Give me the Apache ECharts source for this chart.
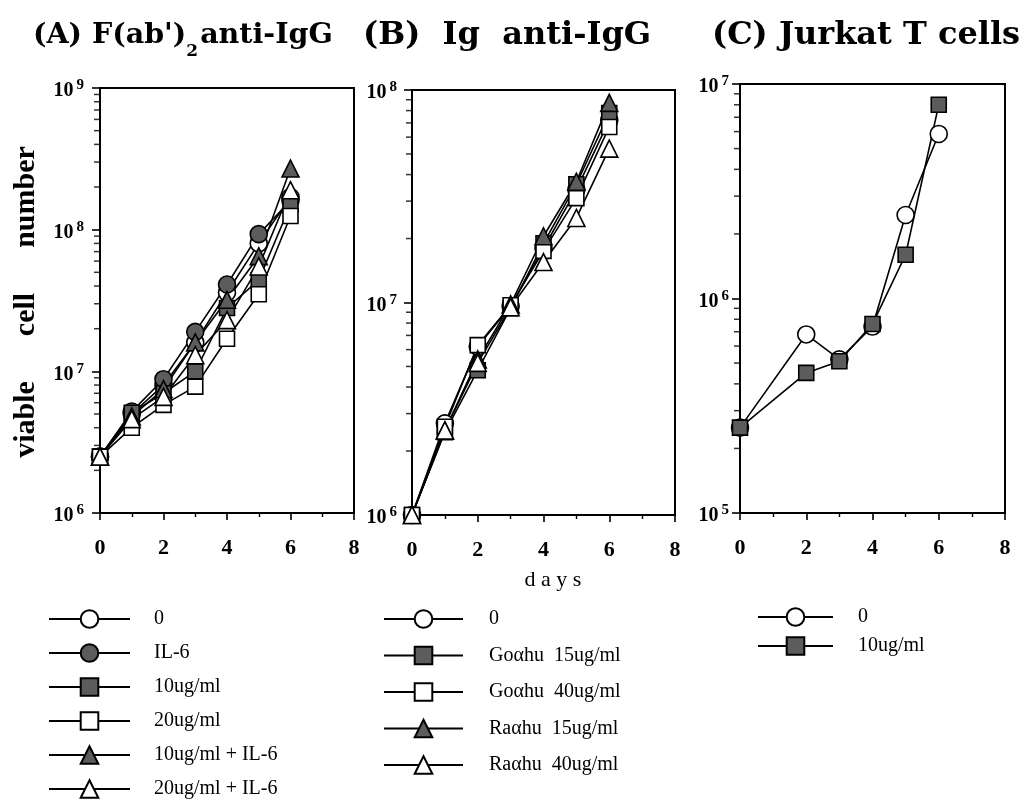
<!DOCTYPE html>
<html>
<head>
<meta charset="utf-8">
<script src="https://cdn.jsdelivr.net/npm/echarts@6/dist/echarts.min.js"></script>
<style>
  html, body { margin: 0; background: #fff; }
  #chart { width: 1031px; height: 804px; }
</style>
</head>
<body>
<div id="chart"></div>
<script>
// data
const daysAB = [0, 1, 2, 3, 4, 5, 6]
const daysC = [0, 2, 3, 4, 5, 6]

// (A) F(ab')2 anti-IgG
const a0 = [2.5e6, 5.0e6, 8.0e6, 1.6e7, 3.6e7, 8.0e7, 1.7e8]
const aIL6 = [2.5e6, 5.2e6, 8.8e6, 1.9e7, 4.1e7, 9.3e7, 1.6e8]
const a10 = [2.5e6, 5.1e6, 7.0e6, 1.0e7, 2.8e7, 4.4e7, 1.5e8]
const a20 = [2.5e6, 4.0e6, 5.8e6, 7.8e6, 1.7e7, 3.5e7, 1.25e8]
const a10IL6 = [2.5e6, 4.8e6, 7.5e6, 1.6e7, 3.2e7, 6.5e7, 2.7e8]
const a20IL6 = [2.5e6, 4.6e6, 6.6e6, 1.3e7, 2.3e7, 5.5e7, 1.9e8]

// (B) Ig anti-IgG
const b0 = [1e6, 2.7e6, 6.2e6, 9.6e6, 1.8e7, 3.4e7, 7.2e7]
const bGo15 = [1e6, 2.45e6, 4.8e6, 9.4e6, 1.9e7, 3.6e7, 7.8e7]
const bGo40 = [1e6, 2.6e6, 6.3e6, 9.7e6, 1.75e7, 3.1e7, 6.7e7]
const bRa15 = [1e6, 2.5e6, 5.4e6, 9.8e6, 2.05e7, 3.7e7, 8.7e7]
const bRa40 = [1e6, 2.5e6, 5.2e6, 9.5e6, 1.55e7, 2.5e7, 5.3e7]

// (C) Jurkat T cells
const c0 = [2.5e5, 6.8e5, 5.2e5, 7.4e5, 2.45e6, 5.85e6]
const c10 = [2.5e5, 4.5e5, 5.1e5, 7.6e5, 1.6e6, 8.0e6]

// axes
const xTicks = [0, 2, 4, 6, 8]
const yRangeA = [1e6, 1e9]
const yRangeB = [1e6, 1e8]
const yRangeC = [1e5, 1e7]
const minorSteps = [2, 3, 4, 5, 6, 7, 8, 9]
const decadesA = [1e6, 1e7, 1e8]
const decadesB = [1e6, 1e7]
const decadesC = [1e5, 1e6]

const legendA = ['0', 'IL-6', '10ug/ml', '20ug/ml', '10ug/ml + IL-6', '20ug/ml + IL-6']
const legendB = ['0', 'Goαhu  15ug/ml', 'Goαhu  40ug/ml', 'Raαhu  15ug/ml', 'Raαhu  40ug/ml']
const legendC = ['0', '10ug/ml']

const SERIF = 'Liberation Serif'
const FILL = '#5c5c5c'

const chart = echarts.init(document.getElementById('chart'))

const line = (name, idx, xs, ys, symbol, fill) => ({
  type: 'line',
  name,
  xAxisIndex: idx,
  yAxisIndex: idx,
  data: xs.map((x, i) => [x, ys[i]]),
  symbol,
  symbolSize: symbol === 'rect' ? 15 : 17,
  showAllSymbol: true,
  lineStyle: { color: '#000', width: 1.6 },
  itemStyle: { color: fill, borderColor: '#000', borderWidth: 1.6 },
  emphasis: { disabled: true },
  animation: false
})

// log minor ticks (2..9 x 10^n) sitting outside the y axis
const minorTicks = (idx, decades) => ({
  type: 'scatter',
  xAxisIndex: idx,
  yAxisIndex: idx,
  silent: true,
  clip: false,
  z: 5,
  animation: false,
  symbol: 'rect',
  symbolSize: [5, 1.5],
  symbolOffset: [-3.5, 0],
  itemStyle: { color: '#000' },
  data: decades.flatMap(d => minorSteps.map(s => [0, s * d]))
})

const xAxis = idx => ({
  type: 'value',
  gridIndex: idx,
  min: xTicks[0],
  max: xTicks[xTicks.length - 1],
  interval: 2,
  axisLine: { lineStyle: { color: '#000', width: 2 } },
  axisTick: { length: 7, lineStyle: { color: '#000', width: 1.6 } },
  minorTick: { show: true, splitNumber: 2, length: 4, lineStyle: { color: '#000', width: 1.4 } },
  splitLine: { show: false },
  axisLabel: { margin: 24, color: '#000', fontFamily: SERIF, fontWeight: 'bold', fontSize: 22 }
})

const yAxis = (idx, range, margin) => ({
  type: 'log',
  logBase: 10,
  gridIndex: idx,
  min: range[0],
  max: range[1],
  axisLine: { show: true, lineStyle: { color: '#000', width: 2 } },
  axisTick: { show: true, length: 8, lineStyle: { color: '#000', width: 1.6 } },
  splitLine: { show: false },
  axisLabel: {
    margin,
    formatter: v => `{b|10}{e|${Math.round(Math.log10(v))}}`,
    rich: {
      b: { fontFamily: SERIF, fontWeight: 'bold', fontSize: 20, lineHeight: 20, padding: [6, 0, 0, 0], color: '#000' },
      e: { fontFamily: SERIF, fontWeight: 'bold', fontSize: 15, lineHeight: 15, verticalAlign: 'top', padding: [0, 0, 0, 3], color: '#000' }
    }
  }
})

const titleRich = size => ({
  t: { fontFamily: 'DejaVu Serif', fontWeight: 'bold', fontSize: size, lineHeight: 48, color: '#000' },
  s: { fontFamily: 'DejaVu Serif', fontWeight: 'bold', fontSize: 17, lineHeight: 17, verticalAlign: 'bottom', padding: [0, 2, 0, 0], color: '#000' }
})

const legend = (data, left, top, width, gap, pad) => ({
  data,
  orient: 'vertical',
  left,
  top,
  padding: 0,
  itemWidth: width,
  itemHeight: 22,
  itemGap: gap,
  selectedMode: false,
  textStyle: { fontFamily: SERIF, fontSize: 20, color: '#000', padding: [0, 0, 0, pad] }
})

const option = {
  backgroundColor: '#fff',
  animation: false,
  title: [
    { text: "{t|(A) F(ab')}{s|2}{t|anti-IgG}", left: 33, top: 12, padding: 0, textStyle: { rich: titleRich(28.5) } },
    { text: '{t|(B)  Ig  anti-IgG}', left: 363, top: 12, padding: 0, textStyle: { rich: titleRich(32) } },
    { text: '{t|(C) Jurkat T cells}', left: 712, top: 12, padding: 0, textStyle: { rich: titleRich(32) } }
  ],
  grid: [
    { left: 100, top: 88, width: 254, height: 425, show: true, borderColor: '#000', borderWidth: 2 },
    { left: 412, top: 90, width: 263, height: 425, show: true, borderColor: '#000', borderWidth: 2 },
    { left: 740, top: 84, width: 265, height: 429, show: true, borderColor: '#000', borderWidth: 2 }
  ],
  xAxis: [xAxis(0), xAxis(1), xAxis(2)],
  yAxis: [yAxis(0, yRangeA, 16), yAxis(1, yRangeB, 15), yAxis(2, yRangeC, 11)],
  legend: [
    legend(legendA, 48, 609, 81, 14, 19),
    legend(legendB, 383, 609, 79, 16.5, 21),
    legend(legendC, 757, 607, 75, 9, 20)
  ],
  graphic: [
    {
      type: 'text',
      x: 26,
      y: 302,
      rotation: Math.PI / 2,
      style: {
        text: 'viable      cell      number',
        font: `bold 30px "${SERIF}"`,
        fill: '#000',
        align: 'center',
        verticalAlign: 'middle'
      }
    },
    {
      type: 'text',
      x: 553,
      y: 580,
      style: {
        text: 'd a y s',
        font: `22px "${SERIF}"`,
        fill: '#000',
        align: 'center',
        verticalAlign: 'middle'
      }
    }
  ],
  series: [
    line('0', 0, daysAB, a0, 'circle', '#fff'),
    line('IL-6', 0, daysAB, aIL6, 'circle', FILL),
    line('10ug/ml', 0, daysAB, a10, 'rect', FILL),
    line('20ug/ml', 0, daysAB, a20, 'rect', '#fff'),
    line('10ug/ml + IL-6', 0, daysAB, a10IL6, 'triangle', FILL),
    line('20ug/ml + IL-6', 0, daysAB, a20IL6, 'triangle', '#fff'),

    line('0', 1, daysAB, b0, 'circle', '#fff'),
    line('Goαhu  15ug/ml', 1, daysAB, bGo15, 'rect', FILL),
    line('Goαhu  40ug/ml', 1, daysAB, bGo40, 'rect', '#fff'),
    line('Raαhu  15ug/ml', 1, daysAB, bRa15, 'triangle', FILL),
    line('Raαhu  40ug/ml', 1, daysAB, bRa40, 'triangle', '#fff'),

    line('0', 2, daysC, c0, 'circle', '#fff'),
    line('10ug/ml', 2, daysC, c10, 'rect', FILL),

    minorTicks(0, decadesA),
    minorTicks(1, decadesB),
    minorTicks(2, decadesC)
  ]
}

chart.setOption(option)
</script>
</body>
</html>
